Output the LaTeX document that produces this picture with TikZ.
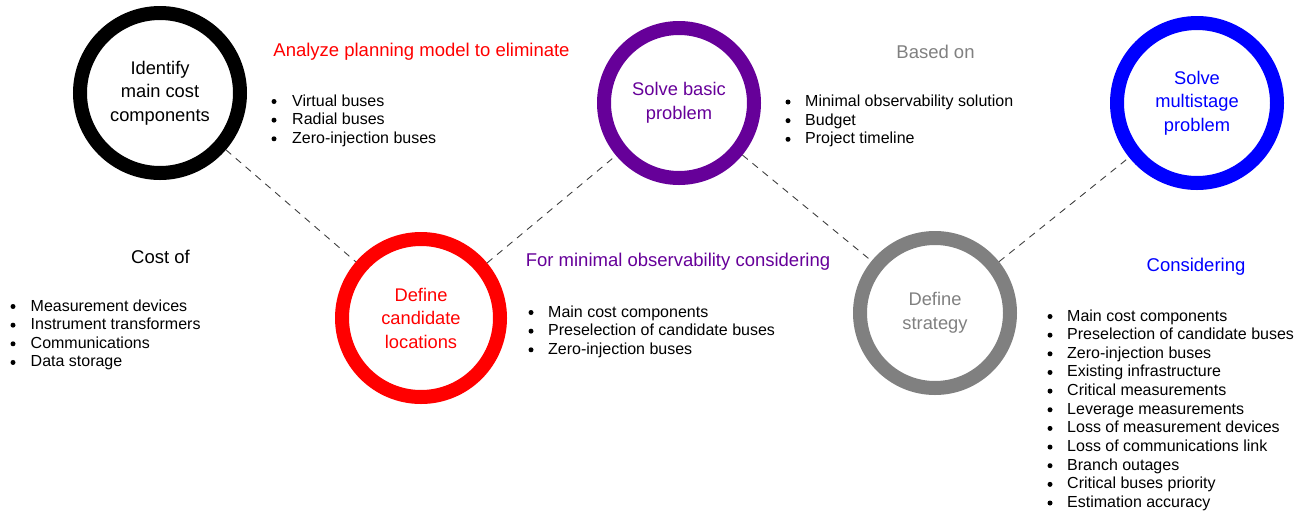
\documentclass[tikz,border=0pt]{standalone}
\usepackage{fontspec}
\setmainfont{Liberation Sans}
\definecolor{cpurple}{HTML}{660099}
\definecolor{cgray}{HTML}{808080}
\definecolor{cred}{HTML}{FF0000}
\definecolor{cblue}{HTML}{0000FF}
\newcommand\mybulletlist[5]{%
  \foreach \t [count=\i from 0] in {#5} {
    \node[dot] (#1d\i) at (#2, #4+18.65*\i-4.5) {};
    \node[item] (#1t\i) at (#3, #4+18.65*\i) {\t};
  }}
\begin{document}
\begin{tikzpicture}[x=1pt,y=-1pt,
  ring/.style={circle, draw=#1, text=#1, line width=14pt, inner sep=0pt, align=center,
    font=\fontsize{18.3}{23.5}\selectfont},
  link/.style={draw=black!75, line width=0.9pt, dash pattern=on 7pt off 6pt},
  head/.style={anchor=base, inner sep=0pt, font=\fontsize{18.5}{22}\selectfont},
  item/.style={anchor=base west, inner sep=0pt, font=\fontsize{16}{19}\selectfont},
  dot/.style={circle, fill=black, inner sep=0pt, minimum size=5pt}]
\useasboundingbox (0,0) rectangle (1310,515);

\node[ring=black, minimum size=160pt] (c1) at (160,93) {Identify\\main cost\\components};
\node[ring=cred, minimum size=158pt] (c2) at (421,318) {Define\\candidate\\locations};
\node[ring=cpurple, minimum size=150pt] (c3) at (679,103) {Solve basic\\problem};
\node[ring=cgray, minimum size=150pt] (c4) at (935,313) {Define\\strategy};
\node[ring=cblue, minimum size=160pt] (c5) at (1197,103) {Solve\\multistage\\problem};

\draw[link] (c1) -- (c2);
\draw[link] (c2) -- (c3);
\draw[link] (c3) -- (c4);
\draw[link] (c4) -- (c5);

\node[head, text=cred] (h1) at (421.5,56) {Analyze planning model to eliminate};
\node[head, text=cgray] (h2) at (935.5,58) {Based on};
\node[head, text=black] (h3) at (160.5,263) {Cost of};
\node[head, text=cpurple] (h4) at (678,266) {For minimal observability considering};
\node[head, text=cblue] (h5) at (1196,271) {Considering};

\mybulletlist{la}{274}{292}{106}{Virtual buses,Radial buses,Zero-injection buses}
\mybulletlist{lb}{788}{805}{106.5}{Minimal observability solution,Budget,Project timeline}
\mybulletlist{lc}{13}{30.5}{311}{Measurement devices,Instrument transformers,Communications,Data storage}
\mybulletlist{ld}{531}{548}{317}{Main cost components,Preselection of candidate buses,Zero-injection buses}
\mybulletlist{le}{1050}{1067}{321}{Main cost components,Preselection of candidate buses,Zero-injection buses,Existing infrastructure,Critical measurements,Leverage measurements,Loss of measurement devices,Loss of communications link,Branch outages,Critical buses priority,Estimation accuracy}
\end{tikzpicture}
\end{document}
